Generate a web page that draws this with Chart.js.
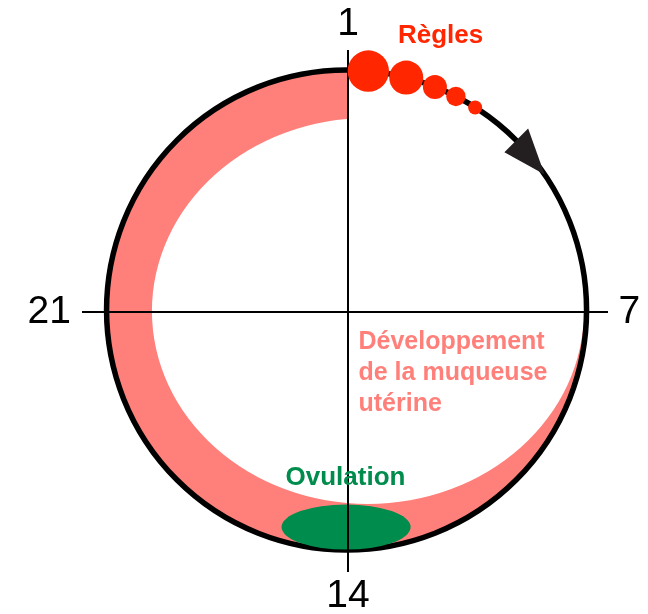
<!DOCTYPE html>
<html lang="fr">
<head>
<meta charset="utf-8">
<title>Cycle menstruel</title>
<script src="https://cdn.jsdelivr.net/npm/chart.js@4.4.1/dist/chart.umd.min.js"></script>
<style>
  html, body { margin: 0; padding: 0; background: #fff; }
  #wrap { width: 648px; height: 614px; }
</style>
</head>
<body>
<div id="wrap"><canvas id="cycle" width="648" height="614"></canvas></div>
<script>
// jours repères du cycle : haut, droite, bas, gauche
const joursCycle = ['1', '7', '14', '21'];

// règles : position sur le cercle (degrés depuis le jour 1) et rayon des gouttes
const reglesAngles = [5.2, 14.4, 21.6, 27.1, 32.4];
const reglesTailles = [20.7, 17, 12, 9.7, 7];

// flèche du sens du cycle : base et pointe (degrés)
const flecheAngles = [45, 55.6];

const libelles = ['Règles', 'Ovulation', 'Développement', 'de la muqueuse', 'utérine'];

const ROUGE = '#ff2600';
const ROSE = '#ff807a';
const VERT = '#008c4c';
const POLICE = '"Liberation Sans", Arial, Helvetica, sans-serif';

// géométrie, 1 unité = rayon du cercle
const cercle = { cx: -0.006, cy: 0.008, r: 1 };
const muqueuse = { cx: 0.083, cy: 0.004, rx: 0.9, ry: 0.804 };
const ovulation = { cx: -0.008, cy: -0.896, rx: 0.269, ry: 0.094 };

const rad = (deg) => deg * Math.PI / 180;
const surCercle = (deg) => ({
    x: cercle.cx + cercle.r * Math.sin(rad(deg)),
    y: cercle.cy + cercle.r * Math.cos(rad(deg))
});

const gouttes = reglesAngles.map((a, i) => ({ ...surCercle(a), r: reglesTailles[i] }));

const dessinCycle = {
    id: 'dessinCycle',
    beforeDraw(chart) {
        const { ctx, scales: { x, y } } = chart;
        const px = (v) => x.getPixelForValue(v);
        const py = (v) => y.getPixelForValue(v);
        const k = px(1) - px(0);

        // muqueuse utérine (pas dans le quart haut-droit)
        ctx.save();
        ctx.beginPath();
        ctx.rect(0, 0, px(0), chart.height);
        ctx.rect(px(0), py(0), chart.width - px(0), chart.height - py(0));
        ctx.clip();
        ctx.beginPath();
        ctx.arc(px(cercle.cx), py(cercle.cy), cercle.r * k, 0, 2 * Math.PI);
        ctx.moveTo(px(muqueuse.cx + muqueuse.rx), py(muqueuse.cy));
        ctx.ellipse(px(muqueuse.cx), py(muqueuse.cy), muqueuse.rx * k, muqueuse.ry * k, 0, 0, 2 * Math.PI);
        ctx.fillStyle = ROSE;
        ctx.fill('evenodd');
        ctx.restore();

        // cercle du cycle
        ctx.save();
        ctx.beginPath();
        ctx.arc(px(cercle.cx), py(cercle.cy), cercle.r * k, 0, 2 * Math.PI);
        ctx.lineWidth = 5.5;
        ctx.strokeStyle = '#000';
        ctx.stroke();

        // ovulation
        ctx.beginPath();
        ctx.ellipse(px(ovulation.cx), py(ovulation.cy), ovulation.rx * k, ovulation.ry * k, 0, 0, 2 * Math.PI);
        ctx.fillStyle = VERT;
        ctx.fill();
        ctx.restore();
    },
    afterDatasetsDraw(chart) {
        const { ctx, scales: { x, y } } = chart;
        const px = (v) => x.getPixelForValue(v);
        const py = (v) => y.getPixelForValue(v);

        // flèche
        const base = surCercle(flecheAngles[0]);
        const pointe = surCercle(flecheAngles[1]);
        const nx = Math.sin(rad(flecheAngles[0]));
        const ny = Math.cos(rad(flecheAngles[0]));
        const demi = 0.07;
        ctx.save();
        ctx.beginPath();
        ctx.moveTo(px(pointe.x), py(pointe.y));
        ctx.lineTo(px(base.x + nx * demi), py(base.y + ny * demi));
        ctx.lineTo(px(base.x - nx * demi), py(base.y - ny * demi));
        ctx.closePath();
        ctx.fillStyle = '#231f20';
        ctx.fill();

        // textes
        ctx.textAlign = 'left';
        ctx.textBaseline = 'alphabetic';
        ctx.font = 'bold 26px ' + POLICE;
        ctx.fillStyle = ROUGE;
        ctx.fillText(libelles[0], px(0.2083), py(1.1188));
        ctx.fillStyle = VERT;
        ctx.fillText(libelles[1], px(-0.2604), py(-0.7229));
        ctx.font = 'bold 25px ' + POLICE;
        ctx.fillStyle = ROSE;
        [libelles[2], libelles[3], libelles[4]].forEach((t, i) => {
            ctx.fillText(t, px(0.04375), py(-0.1521 - i * 0.1292));
        });
        ctx.restore();
    }
};

const unSeulTick = (s) => { s.ticks = [{ value: 0 }]; };
const fontJour = { family: POLICE, size: 39, lineHeight: 1 };

const axeX = (position, label, grille, hauteur, padding) => ({
    type: 'linear',
    position,
    min: -266 / 240,
    max: 260 / 240,
    grid: { display: grille, color: '#000', lineWidth: 2, drawTicks: false },
    border: { display: false },
    ticks: { padding, font: fontJour, color: '#000', callback: () => label },
    afterBuildTicks: unSeulTick,
    afterFit: (s) => { s.height = hauteur; }
});

const axeY = (position, label, grille, largeur, padding) => ({
    type: 'linear',
    position,
    min: -260 / 240,
    max: 262 / 240,
    grid: { display: grille, color: '#000', lineWidth: 2, drawTicks: false },
    border: { display: false },
    ticks: { padding, font: fontJour, color: '#000', callback: () => label },
    afterBuildTicks: unSeulTick,
    afterFit: (s) => { s.width = largeur; }
});

new Chart(document.getElementById('cycle').getContext('2d'), {
    type: 'bubble',
    data: {
        datasets: [{
            label: libelles[0],
            data: gouttes,
            backgroundColor: ROUGE,
            borderWidth: 0,
            hoverRadius: 0,
            clip: false
        }]
    },
    options: {
        responsive: false,
        maintainAspectRatio: false,
        animation: false,
        devicePixelRatio: 1,
        events: [],
        layout: { padding: 0 },
        plugins: { legend: { display: false }, tooltip: { enabled: false } },
        scales: {
            x: axeX('bottom', joursCycle[2], true, 42, 4.5),
            x2: axeX('top', joursCycle[0], false, 50, 6.5),
            y: axeY('left', joursCycle[3], true, 82, 11),
            y2: axeY('right', joursCycle[1], false, 40, 10.5)
        }
    },
    plugins: [dessinCycle]
});
</script>
</body>
</html>
